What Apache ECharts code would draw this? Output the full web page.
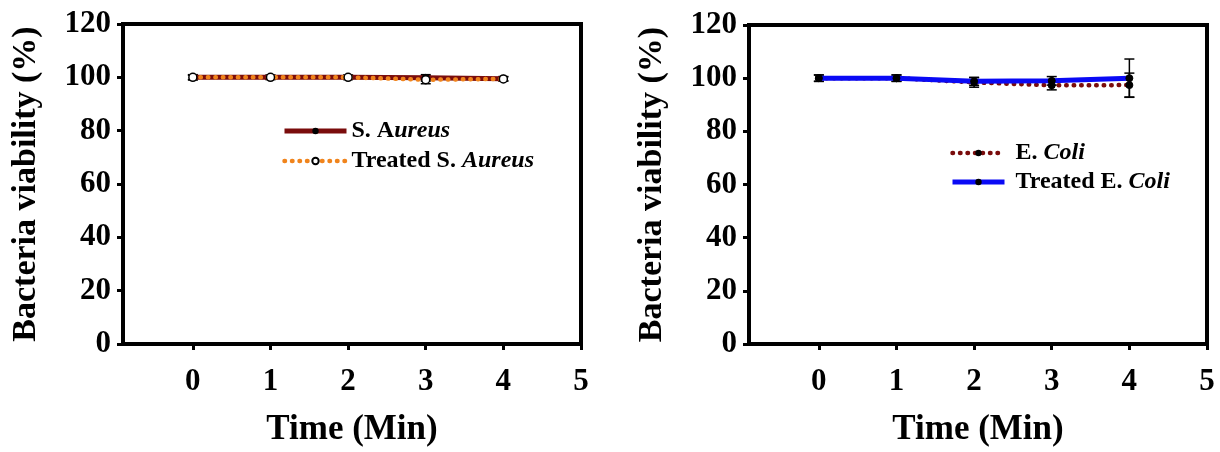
<!DOCTYPE html>
<html>
<head>
<meta charset="utf-8">
<script src="https://cdn.jsdelivr.net/npm/echarts@6/dist/echarts.min.js"></script>
<style>
html,body{margin:0;padding:0;background:#fff;}
#c{width:1220px;height:452px;}
</style>
</head>
<body>
<div id="c"></div>
<script>
// ---- data ----
var times = [0, 1, 2, 3, 4];
var xTicks = [0, 1, 2, 3, 4, 5];
var yTicks = [0, 20, 40, 60, 80, 100, 120];

var saName = 'S. Aureus';
var saValues = [100, 100, 100, 99.8, 99.5];
var saErr = [1, 0.8, 0.8, 1.2, 0.8];

var tsaName = 'Treated S. Aureus';
var tsaValues = [100, 100, 100, 99.1, 99.4];
var tsaErr = [0.8, 0.8, 0.8, 1.5, 0.8];

var ecName = 'E. Coli';
var ecValues = [100, 100, 98.4, 97.3, 97.4];
var ecErr = [1.2, 1.2, 1.8, 1.7, 4.5];

var tecName = 'Treated E. Coli';
var tecValues = [100, 100, 98.8, 99, 100];
var tecErr = [1.2, 1.2, 1.5, 1.6, 7.2];

var xTitle = 'Time (Min)';
var yTitle = 'Bacteria viability (%)';

// ---- helpers ----
var FONT = '"Liberation Serif", "Times New Roman", serif';
var DOT = [0.5, 7];

function pairs(vals) {
  return times.map(function (t, i) { return [t, vals[i]]; });
}
function errData(vals, errs) {
  return times.map(function (t, i) { return [t, vals[i] - errs[i], vals[i] + errs[i]]; });
}
function errSeries(gi, vals, errs) {
  return {
    type: 'custom',
    xAxisIndex: gi, yAxisIndex: gi,
    silent: true,
    z: 1,
    data: errData(vals, errs),
    renderItem: function (params, api) {
      var x = api.value(0);
      var top = api.coord([x, api.value(2)]);
      var bot = api.coord([x, api.value(1)]);
      var w = 5;
      var st = { stroke: '#000', lineWidth: 1.5 };
      return {
        type: 'group',
        children: [
          { type: 'line', shape: { x1: top[0], y1: top[1], x2: bot[0], y2: bot[1] }, style: st },
          { type: 'line', shape: { x1: top[0] - w, y1: top[1], x2: top[0] + w, y2: top[1] }, style: st },
          { type: 'line', shape: { x1: bot[0] - w, y1: bot[1], x2: bot[0] + w, y2: bot[1] }, style: st }
        ]
      };
    }
  };
}

function xAxis(gi) {
  return {
    gridIndex: gi,
    type: 'value',
    min: -0.9, max: 5,
    name: xTitle,
    nameLocation: 'middle',
    nameGap: 68,
    nameTextStyle: { fontFamily: FONT, fontWeight: 'bold', fontSize: 35, color: '#000' },
    axisLine: { show: true, onZero: false, lineStyle: { color: '#000', width: 4 } },
    axisTick: { show: true, customValues: xTicks, length: 6, lineStyle: { color: '#000', width: 3 } },
    axisLabel: { customValues: xTicks, margin: 22, fontFamily: FONT, fontWeight: 'bold', fontSize: 31, color: '#000' },
    splitLine: { show: false }
  };
}
function yAxis(gi) {
  return {
    gridIndex: gi,
    type: 'value',
    min: 0, max: 120, interval: 20,
    name: yTitle,
    nameLocation: 'middle',
    nameRotate: 90,
    nameGap: 80,
    nameTextStyle: { fontFamily: FONT, fontWeight: 'bold', fontSize: 34, color: '#000' },
    axisLine: { show: true, onZero: false, lineStyle: { color: '#000', width: 4 } },
    axisTick: { show: true, length: 6, lineStyle: { color: '#000', width: 3 } },
    axisLabel: { margin: 12, fontFamily: FONT, fontWeight: 'bold', fontSize: 31, color: '#000' },
    splitLine: { show: false }
  };
}

var rich = {
  n: { fontFamily: FONT, fontWeight: 'bold', fontSize: 24, color: '#000' },
  i: { fontFamily: FONT, fontWeight: 'bold', fontStyle: 'italic', fontSize: 24, color: '#000' }
};
var legendLabels = {};
legendLabels[saName] = '{n|S. A}{i|ureus}';
legendLabels[tsaName] = '{n|Treated S. }{i|Aureus}';
legendLabels[ecName] = '{n| E. }{i|Coli}';
legendLabels[tecName] = '{n| Treated E. }{i|Coli}';

var option = {
  backgroundColor: '#fff',
  animation: false,
  grid: [
    { left: 123, top: 24, right: 639, bottom: 107, show: true, borderColor: '#000', borderWidth: 4, backgroundColor: 'transparent' },
    { left: 749, top: 25, right: 13, bottom: 105, show: true, borderColor: '#000', borderWidth: 4, backgroundColor: 'transparent' }
  ],
  xAxis: [xAxis(0), xAxis(1)],
  yAxis: [yAxis(0), yAxis(1)],
  legend: [
    {
      data: [
        { name: saName, lineStyle: { width: 5, color: '#7a0c0c' } },
        { name: tsaName, lineStyle: { width: 4.5, color: '#f0841c', type: DOT, cap: 'round' } }
      ],
      orient: 'vertical',
      left: 277, top: 114,
      itemWidth: 62, itemHeight: 8, itemGap: 6,
      formatter: function (n) { return legendLabels[n]; },
      textStyle: { rich: rich }
    },
    {
      data: [
        { name: ecName, lineStyle: { width: 4.5, color: '#7a0c0c', type: DOT, cap: 'round' } },
        { name: tecName, lineStyle: { width: 5, color: '#0a0af5' } }
      ],
      orient: 'vertical',
      left: 945, top: 136,
      itemWidth: 52, itemHeight: 8, itemGap: 5,
      formatter: function (n) { return legendLabels[n]; },
      textStyle: { rich: rich }
    }
  ],
  series: [
    errSeries(0, saValues, saErr),
    errSeries(0, tsaValues, tsaErr),
    {
      name: saName, type: 'line', xAxisIndex: 0, yAxisIndex: 0, z: 3,
      data: pairs(saValues),
      symbol: 'circle', symbolSize: 7,
      itemStyle: { color: '#000', borderColor: '#000' },
      lineStyle: { color: '#7a0c0c', width: 5, type: 'solid' }
    },
    {
      name: tsaName, type: 'line', xAxisIndex: 0, yAxisIndex: 0, z: 4,
      data: pairs(tsaValues),
      symbol: 'circle', symbolSize: 8,
      itemStyle: { color: '#fff', borderColor: '#000', borderWidth: 1.5 },
      lineStyle: { color: '#f0841c', width: 4.5, type: DOT, cap: 'round' }
    },
    errSeries(1, ecValues, ecErr),
    errSeries(1, tecValues, tecErr),
    {
      name: ecName, type: 'line', xAxisIndex: 1, yAxisIndex: 1, z: 3,
      data: pairs(ecValues),
      symbol: 'circle', symbolSize: 7,
      itemStyle: { color: '#000', borderColor: '#000' },
      lineStyle: { color: '#7a0c0c', width: 4.5, type: DOT, cap: 'round' }
    },
    {
      name: tecName, type: 'line', xAxisIndex: 1, yAxisIndex: 1, z: 4,
      data: pairs(tecValues),
      symbol: 'circle', symbolSize: 7,
      itemStyle: { color: '#000', borderColor: '#000' },
      lineStyle: { color: '#0a0af5', width: 5, type: 'solid' }
    }
  ]
};

var chart = echarts.init(document.getElementById('c'), null, { renderer: 'canvas' });
chart.setOption(option);
</script>
</body>
</html>
